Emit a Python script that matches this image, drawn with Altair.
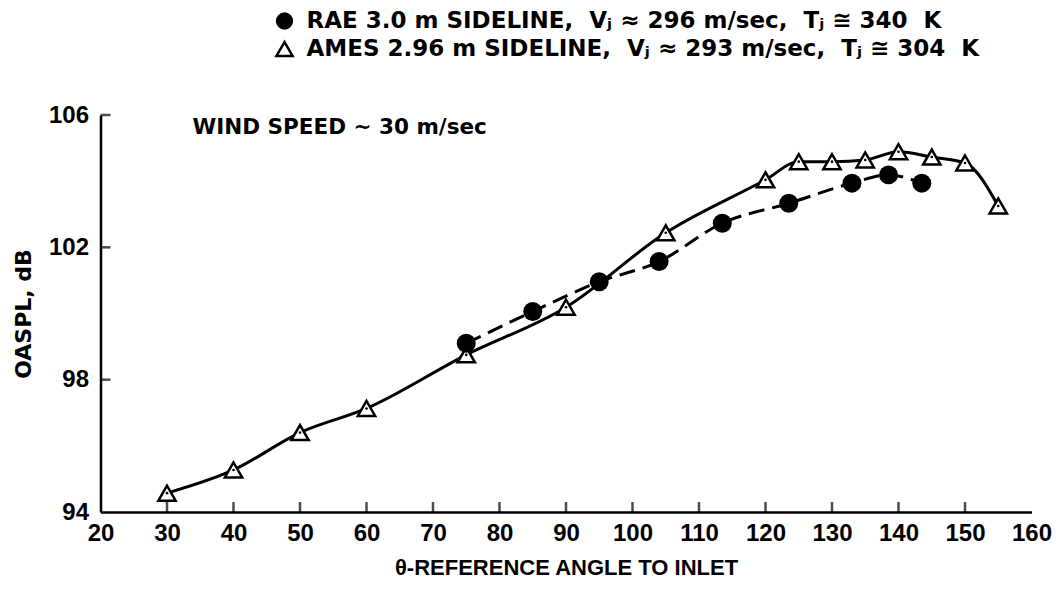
import altair as alt
import pandas as pd

# ---- data ----
ames_angle = [30, 40, 50, 60, 75, 90, 105, 120, 125, 130, 135, 140, 145, 150, 155]
ames_db = [94.57, 95.27, 96.40, 97.13, 98.75, 100.19, 102.44, 104.04, 104.59, 104.59,
           104.64, 104.89, 104.73, 104.55, 103.25]
rae_angle = [75, 85, 95, 104, 113.5, 123.5, 133, 138.5, 143.5]
rae_db = [99.10, 100.06, 100.96, 101.57, 102.73, 103.33, 103.94, 104.19, 103.94]

x_ticks = list(range(20, 161, 10))
x_inner_ticks = list(range(30, 151, 10))
y_ticks = [94, 98, 102, 106]
y_inner_ticks = [98, 102, 106]

SP = "\u00a0"
legend_rae = f"RAE 3.0 m SIDELINE,{SP}{SP}Vⱼ ≈ 296 m/sec,{SP}{SP}Tⱼ ≅ 340{SP}{SP}K"
legend_ames = f"AMES 2.96 m SIDELINE,{SP}{SP}Vⱼ ≈ 293 m/sec,{SP}{SP}Tⱼ ≅ 304{SP}{SP}K"
wind_note = "WIND SPEED ~ 30 m/sec"
x_title = "θ-REFERENCE ANGLE TO INLET"
y_title = "OASPL, dB"

FONT = "DejaVu Sans"
LAB = "Liberation Sans"
W, H = 931, 397

ames = pd.DataFrame({"angle": ames_angle, "db": ames_db})
rae = pd.DataFrame({"angle": rae_angle, "db": rae_db})
xt = pd.DataFrame({"angle": x_inner_ticks})
yt = pd.DataFrame({"db": y_inner_ticks})
one = pd.DataFrame({"k": [0]})

xs = alt.Scale(domain=[20, 160], nice=False, zero=False)
ys = alt.Scale(domain=[94, 106], nice=False, zero=False)

X = alt.X("angle:Q", scale=xs,
          axis=alt.Axis(values=x_ticks, title=x_title, ticks=False, grid=False,
                        labelPadding=9, titlePadding=12, format="d", labelFlush=False,
                        titleFont=LAB, titleFontSize=22))
Y = alt.Y("db:Q", scale=ys,
          axis=alt.Axis(values=y_ticks, title=y_title, ticks=False, grid=False,
                        labelPadding=12, titlePadding=13, format="d", labelFlush=False,
                        titleFont=FONT, titleFontSize=22))

ames_line = alt.Chart(ames).mark_line(color="black", strokeWidth=3, interpolate="monotone").encode(x=X, y=Y)
rae_line = alt.Chart(rae).mark_line(color="black", strokeWidth=3, strokeDash=[16, 8],
                                    interpolate="monotone").encode(x=X, y=Y)
ames_pts = alt.Chart(ames).mark_point(shape="triangle-up", size=300, filled=True, fill="white",
                                      stroke="black", strokeWidth=2.5, opacity=1).encode(x=X, y=Y)
ames_dots = alt.Chart(ames).mark_point(shape="circle", size=7, filled=True, color="black",
                                       opacity=1).encode(x=X, y=Y)
rae_pts = alt.Chart(rae).mark_point(shape="circle", size=360, filled=True, color="black",
                                    opacity=1).encode(x=X, y=Y)

x_tk = alt.Chart(xt).mark_tick(orient="vertical", size=10, thickness=2.5, color="black").encode(
    x=X, y=alt.value(H - 5))
y_tk = alt.Chart(yt).mark_tick(orient="horizontal", size=10, thickness=2.5, color="black").encode(
    y=Y, x=alt.value(5))

# legend (drawn as annotations)
leg_c = alt.Chart(one).mark_point(shape="circle", size=300, filled=True, color="black", opacity=1).encode(
    x=alt.value(184), y=alt.value(-94))
leg_t = alt.Chart(one).mark_point(shape="triangle-up", size=260, filled=True, fill="white",
                                  stroke="black", strokeWidth=2.5, opacity=1).encode(
    x=alt.value(184), y=alt.value(-66))
leg_txt1 = alt.Chart(one).mark_text(text=legend_rae, align="left", baseline="middle", font=FONT,
                                    fontSize=23, fontWeight="bold", color="black").encode(
    x=alt.value(206), y=alt.value(-94))
leg_txt2 = alt.Chart(one).mark_text(text=legend_ames, align="left", baseline="middle", font=FONT,
                                    fontSize=23, fontWeight="bold", color="black").encode(
    x=alt.value(206), y=alt.value(-66))
wind = alt.Chart(one).mark_text(text=wind_note, align="left", baseline="middle", font=FONT,
                                fontSize=21.5, fontWeight="bold", color="black").encode(
    x=alt.value(92), y=alt.value(13))

chart = alt.layer(
    ames_line, rae_line, x_tk, y_tk, ames_pts, ames_dots, rae_pts,
    leg_c, leg_t, leg_txt1, leg_txt2, wind
).properties(
    width=W, height=H,
    autosize=alt.AutoSizeParams(type="none"),
    padding={"left": 92.5, "top": 107, "right": 21.5, "bottom": 69},
    background="white",
).configure_view(stroke=None).configure_axis(
    domainColor="black", domainWidth=2.5,
    labelFont=LAB, labelFontSize=24, labelFontWeight="bold", labelColor="black",
    titleFontWeight="bold", titleColor="black",
)

chart.save("out.html", embed_options={"renderer": "svg", "actions": False})
